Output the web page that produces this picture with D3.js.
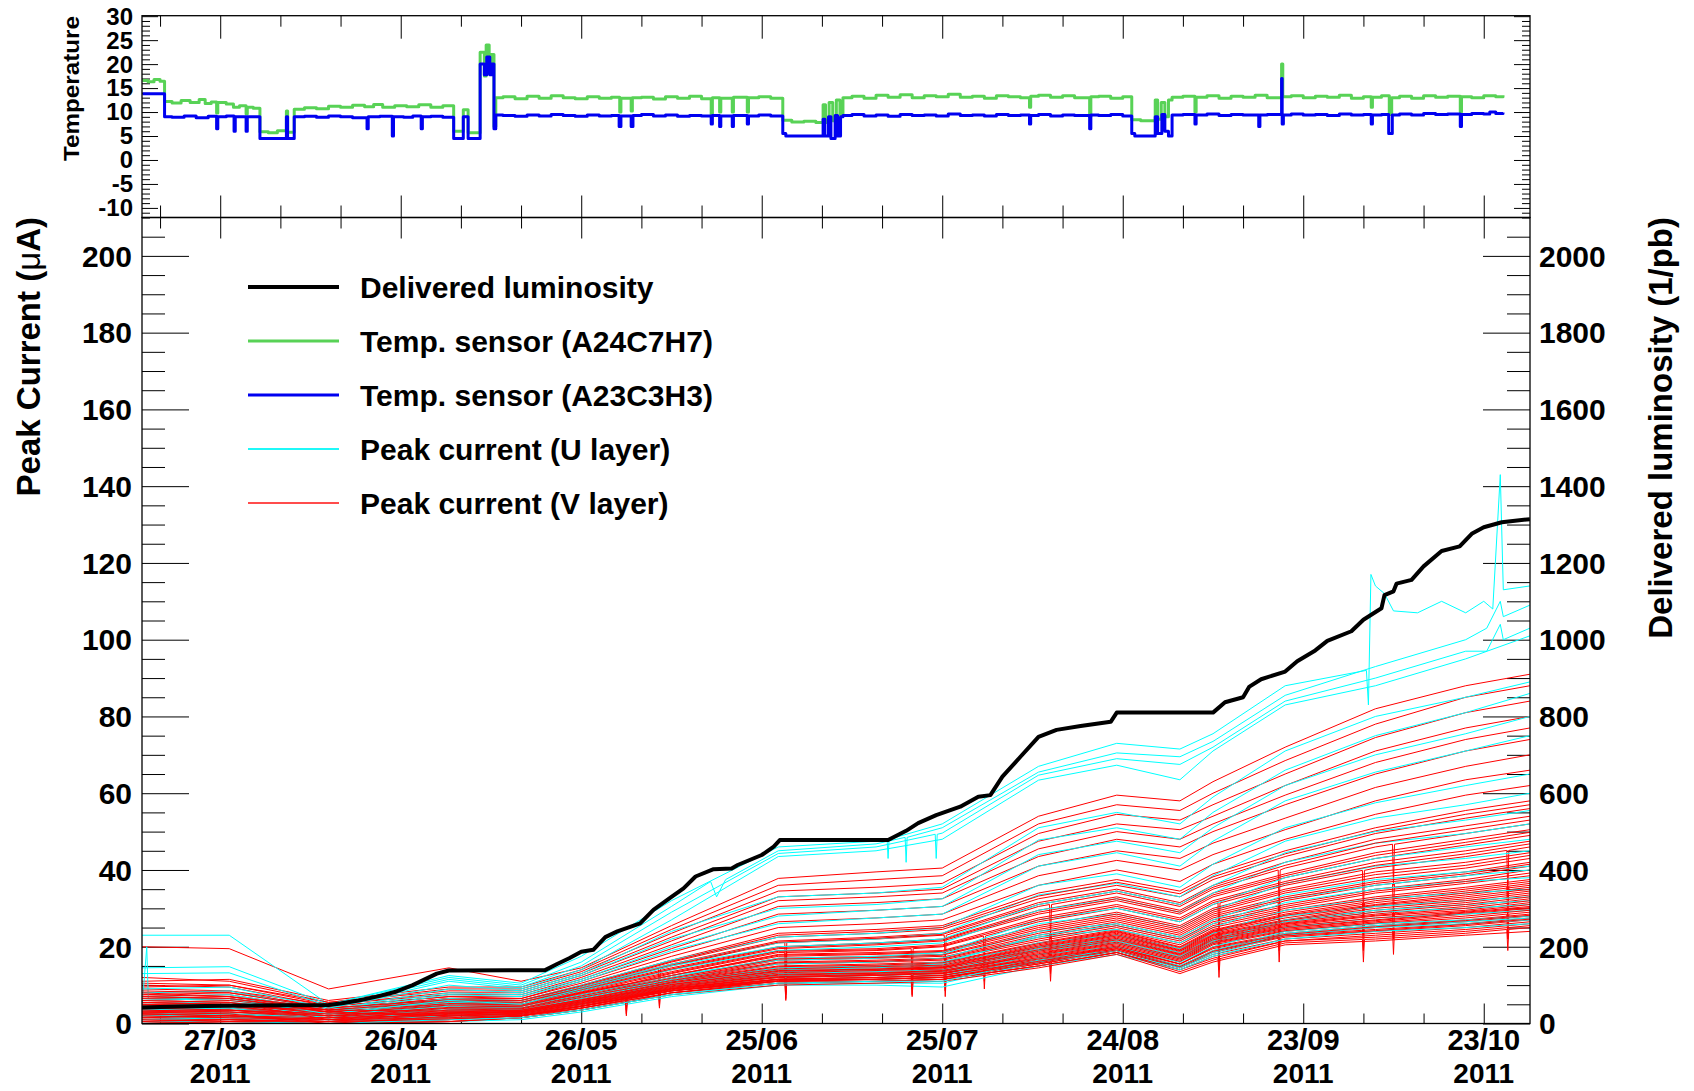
<!DOCTYPE html>
<html>
<head>
<meta charset="utf-8">
<script src="https://cdn.jsdelivr.net/npm/d3@7"></script>
<style>
  html, body { margin: 0; padding: 0; background: #fff; }
  svg { display: block; }
  text { font-family: "Liberation Sans", Arial, Helvetica, sans-serif; font-weight: bold; fill: #000; }
</style>
</head>
<body>
<svg id="chart" width="1694" height="1091"></svg>
<script>
// ---------------------------------------------------------------------------
// Data
// ---------------------------------------------------------------------------

// Date axis: labelled ticks every 30 days
const dateTicks      = ["03-27", "04-26", "05-26", "06-25", "07-25", "08-24", "09-23", "10-23"];
const dateTickLabels = ["27/03", "26/04", "26/05", "25/06", "25/07", "24/08", "23/09", "23/10"];
const yearLabel = "2011";

// Temperature panel tick labels
const tempTicks = [30, 25, 20, 15, 10, 5, 0, -5, -10];
// Peak current (left) and delivered luminosity (right) tick labels
const currentTicks = [0, 20, 40, 60, 80, 100, 120, 140, 160, 180, 200];
const lumiTicks = [0, 200, 400, 600, 800, 1000, 1200, 1400, 1600, 1800, 2000];

// Delivered luminosity (1/pb)
const lumiDates = ["03-14", "03-20", "03-27", "04-14", "04-16", "04-19", "04-22", "04-25", "04-28", "04-30",
  "05-02", "05-04", "05-20", "05-22", "05-24", "05-26", "05-28", "05-30", "06-01", "06-04 19",
  "06-07", "06-10", "06-12", "06-14", "06-17", "06-20", "06-21", "06-25", "06-27", "06-28",
  "07-16", "07-19", "07-21", "07-24", "07-28", "07-31", "08-02", "08-04", "08-07", "08-10",
  "08-13", "08-17", "08-22", "08-23", "09-08", "09-10", "09-13", "09-14", "09-16", "09-20",
  "09-22", "09-25", "09-27", "10-01", "10-03", "10-06", "10-06 12", "10-08", "10-08 12", "10-11",
  "10-13", "10-16", "10-19", "10-21", "10-23", "10-26", "10-30 16"];
const lumiValues = [42, 44, 46, 48, 52, 60, 70, 82, 100, 115,
  130, 138, 139, 155, 170, 187, 192, 225, 240, 261,
  296, 330, 352, 383, 402, 404, 413, 439, 461, 478,
  478, 502, 522, 543, 565, 591, 595, 643, 695, 747,
  765, 775, 786, 810, 810, 837, 850, 877, 897, 917,
  944, 972, 997, 1022, 1052, 1082, 1116, 1126, 1146, 1156,
  1191, 1231, 1243, 1276, 1293, 1306, 1314];

// Dates at which the peak currents are sampled
const currentDates = ["03-14", "03-28 12", "04-14", "05-04", "05-16", "05-26", "06-10", "06-27 18",
  "07-14", "07-25", "08-10", "08-23", "09-02 12", "09-08", "09-20", "10-05", "10-20", "10-30 16"];

// Peak current, V layer (µA): one array per sampling date, one entry per channel
const vLayerAtDate = [
  [20,11,12,9.5,10.5,8,10,7.5,9,6.5,8.5,7,6,8,5,7,4.5,6,3.5,5.5,5,3,4.5,4,2.5,4,2,3.5,1.5,3,1,2.5,0.5,2,1.5,0,1,0.5,1,0,0.5,0,
   7.5,6.5,5.5,4.5,3,2.5,6,5,1.5,4,3.5,2,0.5,1,7,3,2.5,0],
  [19.5,11.5,11,10,10,8.5,9.5,8,8.5,7,8,7.5,6.5,7,5.5,6.5,5,5.5,4,5,4.5,3.5,4,4.5,3,3.5,2.5,3,2,2.5,1.5,2,1,1.5,1,0.5,1,0.5,0.5,0,0,0,
   7,6,5,5,3.5,2,5.5,4.5,2,3.5,3,1.5,1,0.5,6.5,2.5,2,0.5],
  [9,6,5.5,5.5,5,5,4.5,4.5,4,4,4,3.5,3.5,3.5,3,3,3,2.5,2.5,2.5,2,2,2,2,1.5,1.5,1.5,1.5,1,1,1,1,0.5,0.5,0.5,0.5,0.5,0,0,0,0,0,
   4,3.5,3,2.5,2,1.5,1,3.5,0.5,2.5,2,1,0.5,1.5,3,0,1,0.5],
  [14.5,9.5,9,8.5,8,7.5,7,7,6.5,6.5,6,6,5.5,5.5,5,5,4.5,4.5,4,4,4,3.5,3.5,3.5,3,3,3,2.5,2.5,2.5,2,2,2,1.5,1.5,1.5,1,1,1,0.5,0.5,0.5,
   6.2,5.8,5.2,4.8,4.2,4,3.5,3.2,3,2.8,2.7,2.6,2.4,2.2,2,1.9,1.5,1.2],
  [11,9.5,9,8.5,8,7.5,7,6.5,6.5,6,6,5.5,5.5,5,5,5,4.5,4.5,4.5,4,4,4,3.5,3.5,3.5,3.5,3,3,3,3,2.5,2.5,2.5,2.5,2,2,2,2,2,1.5,1.5,1.5,
   6,5.5,5,4.8,4.5,4,3.8,3.5,3.4,3.2,3.1,3,2.9,2.7,2.6,2.4,2.2,2],
  [14.5,14,13.5,13,12.5,12,11.5,11,10.5,10,9.5,9.5,9,9,8.5,8.5,8,8,7.5,7.5,7,7,6.5,6.5,6,6,6,5.5,5.5,5.5,5,5,5,4.5,4.5,4.5,4.5,4,4,4,3.5,3.5,
   9.8,9.2,8.8,8.2,7.8,7.2,6.8,6.2,6.1,5.9,5.7,5.6,5.4,5.2,5.1,4.9,4.6,4.4],
  [25.5,24.5,23.5,22.5,21.5,20.5,19.5,18.5,17.5,16.5,16,15.5,15,14.5,14,13.5,13,12.5,12.5,12,11.5,11.5,11,11,10.5,10.5,10,10,9.5,9.5,9.5,9,9,9,8.5,8.5,8.5,8.5,8,8,8,7.5,
   16.2,15.2,14.2,13.2,12.5,11.8,11.2,10.8,10.6,10.2,10.1,9.8,9.6,9.4,9.2,9.1,8.8,8.6],
  [37.8,36,34.5,33,32,30.5,28.5,26.5,25,23.5,22.5,21.5,21,20,19.5,19,18.5,18,17.5,17,16.5,16,15.5,15,14.5,14,13.5,13.5,13,12.5,12.5,12,12,11.5,11.5,11.5,11,11,11,10.5,10.5,10,
   23,21.2,19.8,18.8,17.8,16.8,15.8,14.8,14.2,13.8,13.6,13.2,12.8,12.6,12.2,12.1,11.6,11.2],
  [39.5,37.5,35.5,34,33,31.5,29.5,27.5,26,24.5,23.5,22.5,22,21,20.5,19.5,19,18.5,18,17.5,17,16.5,16,15.5,15,14.5,14,14,13.5,13,13,12.5,12.5,12,12,11.5,11.5,11.5,11,11,11,10.5,
   24,22.2,20.8,19.2,18.2,17.2,16.2,15.2,14.8,14.2,14.1,13.8,13.2,13.1,12.8,12.6,12,11.6],
  [40.5,38.5,36.5,35,34,32.5,30.5,28.5,27,25.5,24.5,23.5,23,22,21.5,20.5,20,19,18.5,18,17.5,17,16.5,16,15.5,15,14.5,14.5,14,13.5,13.5,13,13,12.5,12.5,12,12,12,11.5,11.5,11.5,11,
   25,23.2,21.8,20.2,18.8,17.8,16.8,15.8,15.2,14.8,14.6,14.2,13.8,13.6,13.2,13.1,12.6,12.1],
  [54,52,49.5,47.5,45.5,43.5,41,38.5,36,34,32.5,31.5,30.5,29.5,28.5,27.5,26.5,25.5,24.5,24,23,22.5,21.5,21,20.5,20,19.5,19,18.5,18,17.5,17,16.5,16.5,16,16,15.5,15.5,15,15,15,14.5,
   33.2,31,29,27,25,23.5,22,20.8,20.2,19.8,19.2,18.8,18.2,17.8,17.2,16.8,16.2,15.8],
  [59.5,57,54.5,52,50,48,45,42.5,40,37.5,36,35,34,33,32,31,30,29,28,27.5,26.5,26,25,24.5,24,23.5,23,22.5,22,21.5,21,20.5,20,20,19.5,19.5,19,19,18.5,18.5,18.5,18,
   36.8,34.5,32.5,30.5,28.5,27,25.5,24.2,23.8,23.2,22.8,22.2,21.8,21.2,20.8,20.2,19.8,19.2],
  [58,55.5,53,50.5,48,46,43,40,37,34.5,33,31.5,30.5,29.5,28.5,27.5,26.5,25.5,24.5,24,23,22.5,21.5,21,20,19.5,19,18.5,18,17.5,17,16.5,16,15.5,15.5,15,14.5,14.5,14,14,13.5,13,
   33.8,31,29,27,25,23.5,22,20.5,19.8,19.2,18.8,18.2,17.8,17.2,16.8,16.2,15.5,14.8],
  [63,60,57,54,52,50,47,44,41.5,39,37.5,36,35,34,33,32,31,30,29,28.5,27.5,27,26,25.5,24.5,24,23.5,23,22.5,22,21.5,21,20.5,20,19.5,19,18.5,18,17.5,17,16.5,16,
   38.2,35.5,33.5,31.5,29.5,28,26.5,25,24.2,23.8,23.2,22.8,22.2,21.8,21.2,20.8,19.8,18.8],
  [72,68.5,65,62,59.5,57,53.5,50.5,48,45,43.5,42,40.5,39,38,37,36,35,34,33,32,31,30,29.5,28.5,28,27,26.5,26,25.5,25,24.5,24,23.5,23,23,22.5,22,21.5,21.5,21,20.5,
   44.2,41.2,38.5,36.5,34.5,32.5,30.5,29,28.2,27.5,26.8,26.2,25.8,25.2,24.8,24.2,23.2,22.8],
  [82,78,74.5,71,68,65,61.5,58,54.5,51,49.5,48,46,44.5,43,42,40.5,39.5,38,37,36,35,34,33,32,31,30.5,29.5,28.5,28,27,26.5,26,25.5,25,24.5,24,23.5,23,22.5,22,21.5,
   50.2,47,43.8,41.2,38.8,36.5,34.5,32.5,31.5,30.8,30,29,28.2,27.5,26.8,26.2,25.2,24.2],
  [88,85,81,77,74,71,67,63.5,59.5,55.5,53.5,51.5,49.5,48,46.5,45,43.5,42,40.5,39.5,38.5,37.5,36.5,35.5,34.5,33.5,32.5,31.5,30.5,29.5,29,28.5,27.5,27,26.5,26,25.5,25,24.5,24,23.5,23,
   54.5,50.5,47.2,44.2,41.2,39,37,35,34,33,32,31,30,29.2,28.8,28,26.8,25.8],
  [91,88,84,80,77,74,70,66,62,58,56,54,52,50.5,49,47.5,46,44.5,43,42,41,40,38.5,37.5,36.5,35.5,34.5,33.5,32.5,31.5,30.5,30,29,28.5,28,27.5,27,26.5,26,25.5,25,24,
   57,53,49.8,46.8,43.8,41.5,39.2,37,36,35,34,33,32,31,30.2,29.5,28.2,27.2]
];

// Short current drops seen on V-layer channels: [channel, date, µA before/after, µA at the drop]
const vLayerDrops = [
  [16, "06-02 12", 10.3, 5], [24, "06-02 12", 8.1, 3.5], [32, "06-02 12", 6.9, 2.5], [40, "06-02 12", 5.6, 2],
  [12, "06-08", 14.2, 8], [20, "06-08", 10.9, 6], [28, "06-08", 9, 4.5], [36, "06-08", 8, 4],
  [12, "06-29", 21.1, 12], [16, "06-29", 18.5, 11], [20, "06-29", 16.5, 9], [24, "06-29", 14.5, 8],
  [28, "06-29", 13, 7.5], [32, "06-29", 12, 6.5], [36, "06-29", 11, 6],
  [16, "07-20", 19.5, 12], [24, "07-20", 15.3, 9], [32, "07-20", 12.8, 7.5], [40, "07-20", 11.3, 7],
  [12, "07-25 12", 23, 15], [20, "07-25 12", 17.5, 10], [28, "07-25 12", 14, 8.5], [36, "07-25 12", 12, 7],
  [16, "08-01", 22.8, 15], [24, "08-01", 17.7, 11], [32, "08-01", 14.5, 9],
  [12, "08-12", 31, 22], [20, "08-12", 23.5, 16], [28, "08-12", 19, 13], [36, "08-12", 16, 11],
  [16, "09-09", 31.4, 22], [24, "09-09", 24.8, 17], [32, "09-09", 20.8, 14], [40, "09-09", 16.9, 12],
  [12, "09-19", 40, 29], [20, "09-19", 31.6, 23], [28, "09-19", 25.7, 19], [36, "09-19", 22.2, 16],
  [16, "10-03", 39.9, 28], [24, "10-03", 31.5, 23], [32, "10-03", 25.7, 19], [40, "10-03", 21.9, 16],
  [12, "10-08", 46.7, 36], [20, "10-08", 36.5, 28], [28, "10-08", 28.9, 22], [36, "10-08", 24.3, 18],
  [16, "10-27", 45.1, 33], [24, "10-27", 35.8, 26], [32, "10-27", 28.5, 22], [40, "10-27", 24.5, 19]
];

// Peak current, U layer (µA): one array per channel, one entry per sampling date
const uLayerChannels = [
  [23, 23, 5, 12.5, 10.5, 17.5, 32, 46, 47.5, 52, 67, 73, 71.5, 75.5, 88, 114, 107, 114],
  [14.5, 14.8, 5, 12, 10, 16, 30.5, 45, 46.8, 51, 65.5, 70.5, 69.5, 73.5, 85.5, 93, 100, 109],
  [13, 13.2, 4.5, 11.5, 9.5, 15, 29, 44.3, 46, 49.6, 64.7, 69, 67.5, 72, 84, 90, 97, 103],
  [4, 6.5, 4, 11, 9, 14, 27, 43.5, 45, 48, 63.4, 67.3, 63.5, 71, 83, 88, 95, 101],
  [8, 8.5, 3.5, 9, 8, 12.5, 22, 30, 31, 32.5, 47.8, 51, 48, 55, 66, 75, 81, 86],
  [7, 7.5, 3.5, 8, 7.5, 11.5, 20, 28, 29.5, 30.5, 44, 47.5, 44.5, 51, 62, 70, 75.5, 80],
  [6.5, 6, 3, 7.5, 7, 11, 19, 26, 27.5, 28.5, 41, 44.5, 41, 47.5, 58, 65.5, 71, 75],
  [5.5, 5.5, 3, 6.5, 6, 10, 16.5, 22.5, 23.5, 25, 36, 39, 35.5, 41.5, 51, 57.5, 62, 65],
  [5, 5, 2.5, 6, 5.5, 9.5, 15.5, 21, 22, 23.5, 33.5, 36.5, 33, 38.5, 47.5, 53.5, 57, 60],
  [4.5, 4.5, 2.5, 5.5, 5, 8.5, 14, 19, 20, 21, 29.5, 32.5, 29, 34, 42, 47, 49.5, 52],
  [4, 4, 2, 5, 4.5, 7.5, 12.5, 16.5, 17, 18, 26, 28.5, 25, 29.5, 36.5, 41, 43, 45],
  [3.5, 3.5, 2, 4.5, 4, 7, 11.5, 15.5, 16, 17, 24, 26, 22.5, 27, 33.5, 37.5, 39.5, 41],
  [3, 3, 1.5, 4, 3.5, 6.5, 11, 14.5, 15, 16, 22.5, 24.5, 21, 25, 31.5, 35, 37, 38],
  [2.5, 2.5, 1.5, 3.5, 3.5, 6, 10, 13.5, 14, 15, 21, 23, 19.5, 23.5, 29.5, 32.5, 34, 35],
  [2, 2, 1, 3, 3, 5.5, 9.5, 13, 13.5, 14, 20, 22, 18.5, 22, 28, 30.5, 32, 33],
  [1.5, 1.5, 1, 2.5, 2.5, 5, 9, 12, 12.5, 13, 19, 21, 17, 21, 26.5, 29, 30, 31],
  [1, 1, 0.5, 2, 2, 4.5, 8.5, 11.5, 12, 12.5, 18, 20, 16, 20, 25, 27.5, 28.5, 29.5],
  [0.5, 0.5, 0.5, 1.5, 2, 4, 8, 11, 11.5, 12, 17, 19, 15, 19, 24, 26, 27, 28],
  [0, 0, 0, 1, 1.5, 3.5, 7.5, 10.5, 10.5, 10.5, 16, 18.5, 14.5, 18, 23, 25, 26, 27],
  [0, 0, 0, 0.5, 1, 3, 7, 10, 10, 9.5, 15, 18, 14, 17.5, 22, 24, 25, 26],
  [3.5, 4, 1.5, 4, 4, 7, 12, 17, 17.5, 18.5, 27, 30, 26.5, 31, 38, 43, 46, 48],
  [2, 2.5, 1, 3, 3, 6, 10.5, 14, 14.5, 15.5, 23, 25.5, 22, 26, 32.5, 36, 38.5, 40],
  [6, 6.5, 2.5, 6, 5, 9, 15, 20, 21, 22, 31, 34.5, 31, 36, 44.5, 50, 53, 55.5],
  [1, 1.5, 0.5, 2.5, 2.5, 5, 9.5, 12.5, 13, 13.5, 19.5, 21.5, 17.5, 21.5, 27, 29.5, 31, 32],
  [9, 9.5, 4, 10, 8.5, 13, 24, 33, 34, 35.5, 51, 55, 52, 59, 71, 80, 85, 89],
  [0.5, 0.5, 0, 1, 1.5, 3.5, 7.5, 10.5, 11, 11, 16.5, 19, 15, 18.5, 23.5, 25.5, 26.5, 27.5]
];

// Extra U-layer readings between sampling dates: [channel, date, µA]
const uLayerExtra = [
  [3, "03-14 19", 20], [3, "03-15 01", 6.5],
  [1, "06-16 12", 37], [1, "06-17 12", 33], [1, "06-19", 37.5],
  [0, "07-15 20", 48], [0, "07-16", 43], [0, "07-16 04", 48],
  [1, "07-18 20", 48.5], [1, "07-19", 42], [1, "07-19 04", 48.5],
  [2, "07-23 20", 49.3], [2, "07-24", 43], [2, "07-24 04", 49.3],
  [0, "10-03 12", 92], [0, "10-03 20", 83], [0, "10-04 06", 117], [0, "10-06 12", 112],
  [0, "10-08", 107.5], [0, "10-12", 107], [0, "10-16", 110], [0, "10-23", 110],
  [0, "10-24 12", 108], [0, "10-25 18", 143], [0, "10-26 06", 113],
  [1, "10-23 12", 103], [1, "10-25 18", 110], [1, "10-26 06", 106],
  [2, "10-23 12", 97], [2, "10-25 18", 104], [2, "10-26 06", 100]
];

// Temperature sensors: [day since 14/03, °C]
const tempA24C7H7 = [
  [0.05,16.6],[1,16.3],[2,16.8],[3,16.4],[3.75,12.2],[5,11.9],[6.5,12.4],[8,12.0],[9.5,12.6],[10.5,11.8],
  [11.5,12.1],[12.4,9.8],[12.6,12.0],[14,11.7],[15.2,11.0],[16.2,11.3],[17.3,9.6],[17.5,11.0],[18.5,10.8],[19.6,5.9],
  [21,5.7],[22.5,6.1],[24.0,10.2],[24.2,5.8],[25.3,10.6],[27,10.9],[29,10.7],[31,11.2],[33,11.0],[35,11.4],
  [37,11.1],[38.5,11.6],[40,11.0],[42,11.3],[44,11.1],[46,11.5],[48,11.0],[50,11.3],[51.8,6.0],[53.4,10.5],
  [54.2,5.7],[56.2,22.5],[56.9,17.5],[57.2,24.0],[57.7,19.5],[58.0,22.0],[58.5,7.0],[58.8,13.0],[60,13.2],[62,12.8],
  [64,13.3],[66,12.9],[68,13.4],[70,13.0],[72,12.8],[74,13.2],[76,12.9],[78,13.1],[79.4,10.0],[79.6,12.9],
  [81.3,10.2],[81.5,13.0],[83,13.1],[85,12.7],[87,13.2],[89,12.9],[91,13.3],[93,12.8],[94.6,9.5],[94.8,13.0],
  [96.0,10.0],[96.2,12.9],[98.1,10.0],[98.3,13.1],[100.6,10.0],[100.8,13.0],[102.5,13.2],[104.5,12.9],[106.5,8.3],[108,7.9],
  [110,8.1],[112,7.8],[113.2,11.5],[113.6,7.8],[114.2,12.0],[114.8,8.2],[115.4,12.5],[116.0,9.5],[116.5,13.0],[118,13.3],
  [120,12.9],[122,13.5],[124,13.1],[126,13.6],[128,13.0],[130,13.4],[132,13.2],[134,13.7],[136,13.1],[138,13.3],
  [140,12.9],[142,13.4],[144,13.2],[146,13.0],[147.5,11.0],[147.7,13.3],[149,13.5],[151,13.1],[153,13.4],[155,13.0],
  [157.5,9.0],[157.7,13.2],[159,13.3],[161,12.9],[163,13.2],[164.5,8.4],[166,8.2],[168.4,12.5],[168.8,8.5],[169.4,12.0],
  [170,9.0],[170.6,12.5],[171.2,13.1],[173,13.3],[175.0,10.0],[175.2,13.1],[177,13.4],[179,12.9],[181,13.3],[183,13.1],
  [185,13.5],[187,13.0],[189.4,20.0],[189.6,13.2],[191,13.4],[193,13.0],[195,13.3],[197,13.1],[199,13.5],[201,12.9],
  [203,13.2],[204.3,11.0],[204.5,13.1],[206,13.4],[207.3,9.5],[207.7,13.0],[209,13.3],[211,12.9],[213,13.4],[215,13.1],
  [217,13.3],[219.1,10.0],[219.3,13.2],[221,13.0],[223,13.4],[225,13.2],[226.2,13.5]
];
const tempA23C3H3 = [
  [0.05,13.8],[3.75,9.0],[5,8.9],[7,9.2],[9,8.8],[11,9.1],[12.4,6.5],[12.6,9.0],[14,9.2],[15.3,6.0],
  [15.5,9.0],[17.3,6.0],[17.5,9.0],[19.6,4.5],[24.0,9.0],[24.2,4.5],[25.3,9.0],[27,9.1],[29,8.9],[31,9.2],
  [33,9.0],[35,8.8],[37.4,6.5],[37.6,9.0],[39.5,9.1],[41.6,5.0],[41.8,9.0],[43.5,8.9],[45,9.2],[46.4,6.5],
  [46.6,9.0],[48,9.1],[50,8.9],[51.8,4.5],[53.4,9.0],[54.2,4.5],[56.2,20.0],[56.9,17.8],[57.3,21.5],[57.8,17.8],
  [58.1,20.0],[58.5,6.5],[58.8,9.4],[60,9.3],[62,9.1],[64,9.4],[66,9.2],[68,9.5],[70,9.3],[72,9.1],
  [74,9.4],[76,9.2],[78,9.3],[79.3,7.0],[79.6,9.2],[81.3,7.0],[81.6,9.3],[83,9.5],[85,9.2],[87,9.4],
  [89,9.1],[91,9.3],[93,9.2],[94.6,7.5],[94.8,9.3],[96.0,7.0],[96.2,9.2],[98.1,7.0],[98.3,9.3],[100.6,7.5],
  [100.8,9.2],[102.5,9.4],[104.5,9.2],[106.5,5.5],[107,5.0],[110,5.0],[113.2,8.5],[113.5,5.0],[114.1,9.0],[114.5,4.5],
  [115.2,9.3],[115.6,5.0],[116.1,9.0],[116.5,9.3],[118,9.5],[120,9.2],[122,9.4],[124,9.1],[126,9.5],[128,9.3],
  [130,9.4],[132,9.2],[134,9.6],[136,9.3],[138,9.4],[140,9.2],[142,9.5],[144,9.3],[146,9.4],[147.5,7.5],
  [147.7,9.3],[149,9.5],[151,9.2],[153,9.4],[155,9.3],[157.5,6.5],[157.7,9.4],[159,9.3],[161,9.5],[163,9.2],
  [164.5,5.5],[165,5.0],[168.2,5.0],[168.4,9.0],[168.8,5.5],[169.5,9.5],[170.0,6.0],[170.6,5.0],[171.2,9.4],[173,9.5],
  [175.0,7.5],[175.2,9.4],[177,9.6],[179,9.3],[181,9.5],[183,9.4],[185.6,7.0],[185.8,9.4],[187,9.5],[189.4,17.0],
  [189.5,7.5],[189.7,9.4],[191,9.6],[193,9.4],[195,9.5],[197,9.3],[199,9.6],[201,9.4],[203,9.5],[204.3,7.5],
  [204.5,9.4],[206,9.5],[207.2,5.5],[207.8,9.4],[209,9.6],[211,9.4],[213,9.7],[215,9.5],[217,9.6],[219.1,7.0],
  [219.3,9.5],[221,9.7],[223,9.6],[224,10.0],[225,9.7],[226.2,9.9]
];

const legendLabels = ["Delivered luminosity", "Temp. sensor (A24C7H7)", "Temp. sensor (A23C3H3)",
  "Peak current (U layer)", "Peak current (V layer)"];

// ---------------------------------------------------------------------------
// Layout and scales
// ---------------------------------------------------------------------------
const COL = { lumi: "#000000", green: "#58d256", blue: "#0000f0", cyan: "#00ffff", red: "#ff0000" };
const X0 = 142, X1 = 1530;
const TOP_T = 15.7, TOP_B = 217.5, MAIN_B = 1023.5;
const HOUR = 3600e3;

function dt(s) {
  const m = s.match(/^(\d+)-(\d+)(?:\s+(\d+)(?::(\d+))?)?$/);
  return new Date(Date.UTC(2011, +m[1] - 1, +m[2], +(m[3] || 0), +(m[4] || 0)));
}
const DAY0 = Date.UTC(2011, 2, 14);
const fromDay = d => new Date(DAY0 + d * 864e5);

const x = d3.scaleUtc().domain([dt("03-14"), dt("10-30 16:30")]).range([X0, X1]);
const yT = d3.scaleLinear().domain([-12, 30.1]).range([TOP_B, TOP_T]);
const yC = d3.scaleLinear().domain([0, 210]).range([MAIN_B, TOP_B]);
const yL = d3.scaleLinear().domain([0, 2100]).range([MAIN_B, TOP_B]);

const svg = d3.select("#chart");
const defs = svg.append("defs");
defs.append("clipPath").attr("id", "clipMain").append("rect")
  .attr("x", X0).attr("y", TOP_B).attr("width", X1 - X0).attr("height", MAIN_B - TOP_B);
defs.append("clipPath").attr("id", "clipTop").append("rect")
  .attr("x", X0).attr("y", TOP_T).attr("width", X1 - X0).attr("height", TOP_B - TOP_T);

// ---------------------------------------------------------------------------
// Tick marks
// ---------------------------------------------------------------------------
const majorDates = dateTicks.map(dt);
const minorDates = d3.utcDay.range(dt("03-17"), dt("10-31"), 10)
  .filter(d => !majorDates.some(m => +m === +d));

function tickAxis(axisFn, scale, values, size, tx, ty) {
  const g = svg.append("g").attr("transform", `translate(${tx},${ty})`)
    .call(axisFn(scale).tickValues(values).tickSize(size).tickFormat(""));
  g.select(".domain").remove();
  g.selectAll(".tick line").attr("stroke", "#000").attr("stroke-width", 1);
}

const tMajor = d3.range(-10, 31, 5), tMinor = d3.range(-12, 31, 1).filter(v => v % 5 !== 0);
const cMajor = d3.range(0, 201, 20), cMinor = d3.range(5, 210, 5).filter(v => v % 20 !== 0);
const lMajor = d3.range(0, 2001, 200), lMinor = d3.range(50, 2100, 50).filter(v => v % 200 !== 0);

// temperature panel
tickAxis(d3.axisRight, yT, tMajor, 16, X0, 0);
tickAxis(d3.axisRight, yT, tMinor, 8, X0, 0);
tickAxis(d3.axisLeft, yT, tMajor, 16, X1, 0);
tickAxis(d3.axisLeft, yT, tMinor, 8, X1, 0);
tickAxis(d3.axisBottom, x, majorDates, 23, 0, TOP_T);
tickAxis(d3.axisBottom, x, minorDates, 11, 0, TOP_T);
tickAxis(d3.axisTop, x, majorDates, 22, 0, TOP_B);
tickAxis(d3.axisTop, x, minorDates, 12, 0, TOP_B);

// main panel
tickAxis(d3.axisRight, yC, cMajor, 47, X0, 0);
tickAxis(d3.axisRight, yC, cMinor, 23, X0, 0);
tickAxis(d3.axisLeft, yL, lMajor, 47, X1, 0);
tickAxis(d3.axisLeft, yL, lMinor, 23, X1, 0);
tickAxis(d3.axisTop, x, majorDates, 20, 0, MAIN_B);
tickAxis(d3.axisTop, x, minorDates, 10, 0, MAIN_B);
tickAxis(d3.axisBottom, x, majorDates, 21, 0, TOP_B);
tickAxis(d3.axisBottom, x, minorDates, 11, 0, TOP_B);

// ---------------------------------------------------------------------------
// Temperature traces
// ---------------------------------------------------------------------------
const tempLine = d3.line().curve(d3.curveStepAfter)
  .x(d => x(fromDay(d[0]))).y(d => yT(d[1]));
const gTop = svg.append("g").attr("clip-path", "url(#clipTop)");
gTop.append("path").attr("d", tempLine(tempA24C7H7))
  .attr("fill", "none").attr("stroke", COL.green).attr("stroke-width", 3).attr("stroke-linejoin", "round");
gTop.append("path").attr("d", tempLine(tempA23C3H3))
  .attr("fill", "none").attr("stroke", COL.blue).attr("stroke-width", 3).attr("stroke-linejoin", "round");

// ---------------------------------------------------------------------------
// Peak currents and luminosity
// ---------------------------------------------------------------------------
const sampleDates = currentDates.map(dt);
const vChannels = vLayerAtDate[0].map((_, i) => sampleDates.map((d, k) => [d, vLayerAtDate[k][i]]));
vLayerDrops.forEach(([ch, s, level, low]) => {
  const t = +dt(s);
  vChannels[ch].push([new Date(t - 4 * HOUR), level], [new Date(t), low], [new Date(t + 4 * HOUR), level]);
});
vChannels.forEach(pts => pts.sort((a, b) => a[0] - b[0]));

const uChannels = uLayerChannels.map(vals => sampleDates.map((d, k) => [d, vals[k]]));
uLayerExtra.forEach(([ch, s, v]) => uChannels[ch].push([dt(s), v]));
uChannels.forEach(pts => pts.sort((a, b) => a[0] - b[0]));

const curLine = d3.line().x(d => x(d[0])).y(d => yC(d[1]));
const gMain = svg.append("g").attr("clip-path", "url(#clipMain)");

// U and V channels drawn interleaved, as the readout alternates layers
vChannels.forEach((pts, i) => {
  gMain.append("path").attr("d", curLine(pts))
    .attr("fill", "none").attr("stroke", COL.red).attr("stroke-width", 1);
  const u = uChannels[(i - 1) / 2];
  if (i % 2 === 1 && u) {
    gMain.append("path").attr("d", curLine(u))
      .attr("fill", "none").attr("stroke", COL.cyan).attr("stroke-width", 1);
  }
});

const lumiLine = d3.line().x(d => x(d[0])).y(d => yL(d[1]));
gMain.append("path")
  .attr("d", lumiLine(lumiDates.map((s, i) => [dt(s), lumiValues[i]])))
  .attr("fill", "none").attr("stroke", COL.lumi).attr("stroke-width", 4).attr("stroke-linejoin", "round");

// ---------------------------------------------------------------------------
// Frames
// ---------------------------------------------------------------------------
svg.append("rect").attr("x", X0).attr("y", TOP_T).attr("width", X1 - X0).attr("height", TOP_B - TOP_T)
  .attr("fill", "none").attr("stroke", "#000").attr("stroke-width", 1.3);
svg.append("rect").attr("x", X0).attr("y", TOP_B).attr("width", X1 - X0).attr("height", MAIN_B - TOP_B)
  .attr("fill", "none").attr("stroke", "#000").attr("stroke-width", 1.3);

// ---------------------------------------------------------------------------
// Labels
// ---------------------------------------------------------------------------
svg.append("g").selectAll("text").data(tempTicks).join("text")
  .attr("x", 133).attr("y", d => yT(d) + 8.4).attr("text-anchor", "end")
  .attr("font-size", 24).text(d => d);

svg.append("g").selectAll("text").data(currentTicks).join("text")
  .attr("x", 132).attr("y", d => yC(d) + 10.8).attr("text-anchor", "end")
  .attr("font-size", 30).text(d => d);

svg.append("g").selectAll("text").data(lumiTicks).join("text")
  .attr("x", 1539).attr("y", d => yL(d) + 10.8).attr("text-anchor", "start")
  .attr("font-size", 30).text(d => d);

const gDates = svg.append("g").selectAll("g").data(majorDates).join("g");
gDates.append("text").attr("x", d => x(d)).attr("y", 1050).attr("text-anchor", "middle")
  .attr("font-size", 29).text((d, i) => dateTickLabels[i]);
gDates.append("text").attr("x", d => x(d)).attr("y", 1083).attr("text-anchor", "middle")
  .attr("font-size", 28).text(yearLabel);

// axis titles
svg.append("text").attr("transform", "translate(79,16) rotate(-90)")
  .attr("text-anchor", "end").attr("font-size", 22)
  .attr("textLength", 145).attr("lengthAdjust", "spacingAndGlyphs").text("Temperature");

const leftTitle = svg.append("text").attr("transform", "translate(40,217) rotate(-90)")
  .attr("text-anchor", "end").attr("font-size", 33);
leftTitle.append("tspan").text("Peak Current (");
leftTitle.append("tspan").attr("font-weight", "normal").text("\u03bc");
leftTitle.append("tspan").text("A)");

svg.append("text").attr("transform", "translate(1672,217) rotate(-90)")
  .attr("text-anchor", "end").attr("font-size", 33).text("Delivered luminosity (1/pb)");

// ---------------------------------------------------------------------------
// Legend
// ---------------------------------------------------------------------------
const legendStyle = [
  { color: COL.lumi, width: 4 }, { color: COL.green, width: 3 }, { color: COL.blue, width: 3 },
  { color: "#1ff8f8", width: 2 }, { color: "#ff4c4c", width: 2 }
];
const gLeg = svg.append("g").selectAll("g").data(legendLabels).join("g")
  .attr("transform", (d, i) => `translate(0,${287 + i * 54})`);
gLeg.append("line").attr("x1", 248).attr("x2", 339).attr("y1", 0).attr("y2", 0)
  .attr("stroke", (d, i) => legendStyle[i].color).attr("stroke-width", (d, i) => legendStyle[i].width);
gLeg.append("text").attr("x", 360).attr("y", 10.5).attr("font-size", 30).text(d => d);
</script>
</body>
</html>
